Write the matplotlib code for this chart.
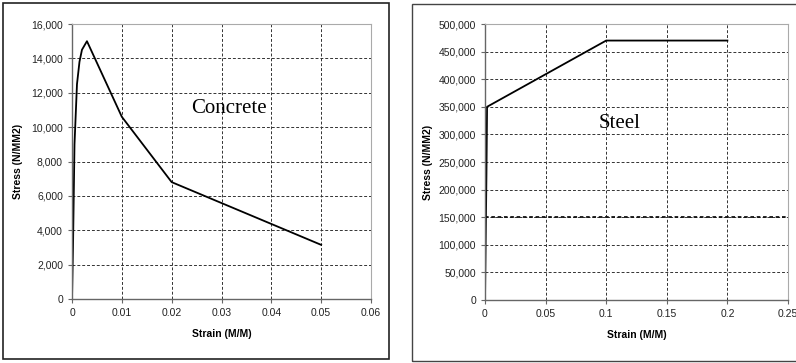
import matplotlib.pyplot as plt
from matplotlib.patches import Rectangle
from matplotlib.ticker import FuncFormatter

# concrete stress-strain
conc_strain = [0, 0.0002, 0.0005, 0.001, 0.0015, 0.002, 0.003, 0.01, 0.02, 0.05]
conc_stress = [0, 3000, 9000, 12500, 13800, 14500, 15000, 10600, 6800, 3150]

# steel stress-strain
steel_strain = [0, 0.0012, 0.0017, 0.1, 0.2]
steel_stress = [0, 230000, 350000, 470000, 470000]

fig = plt.figure(figsize=(7.96, 3.63), dpi=100)
plt.rcParams['font.family'] = ['Liberation Sans', 'DejaVu Sans']

# outer panel frames
fig.patches.append(Rectangle((3/796, 1-359/363), 386/796, 356/363, transform=fig.transFigure,
                             fill=False, ec='#222222', lw=1.2))
fig.patches.append(Rectangle((412/796, 1-361/363), 390/796, 357/363, transform=fig.transFigure,
                             fill=False, ec='#444444', lw=1.0))

comma = FuncFormatter(lambda v, p: '{:,.0f}'.format(v))


def style(ax):
    for s in ['top', 'right']:
        ax.spines[s].set_color('#aaaaaa')
        ax.spines[s].set_linewidth(0.8)
    for s in ['left', 'bottom']:
        ax.spines[s].set_color('#666666')
        ax.spines[s].set_linewidth(1.0)
    ax.grid(True, color='#333333', ls=(0, (3, 2)), lw=0.7)
    ax.set_axisbelow(True)
    ax.tick_params(labelsize=7.5, length=3, color='#666666', labelcolor='#222222')


ax1 = fig.add_axes([72/796, 1-299/363, 299/796, 275/363])
ax1.plot(conc_strain, conc_stress, color='black', lw=1.3)
ax1.set_xlim(0, 0.06)
ax1.set_ylim(0, 16000)
ax1.set_xticks([0, 0.01, 0.02, 0.03, 0.04, 0.05, 0.06])
ax1.set_xticklabels(['0', '0.01', '0.02', '0.03', '0.04', '0.05', '0.06'])
ax1.set_yticks(range(0, 16001, 2000))
ax1.yaxis.set_major_formatter(comma)
style(ax1)
ax1.set_xlabel('Strain (M/M)', fontsize=7.5, fontweight='bold', labelpad=8)
ax1.set_ylabel('Stress (N/MM2)', fontsize=7.5, fontweight='bold', labelpad=6)
ax1.text(0.024, 11100, 'Concrete', family='Liberation Serif', fontsize=15, va='center')

ax2 = fig.add_axes([485/796, 1-300/363, 303/796, 276/363])
ax2.plot(steel_strain, steel_stress, color='black', lw=1.3)
ax2.set_xlim(0, 0.25)
ax2.set_ylim(0, 500000)
ax2.set_xticks([0, 0.05, 0.1, 0.15, 0.2, 0.25])
ax2.set_xticklabels(['0', '0.05', '0.1', '0.15', '0.2', '0.25'])
ax2.set_yticks(range(0, 500001, 50000))
ax2.yaxis.set_major_formatter(comma)
style(ax2)
ax2.axhline(150000, color='#111111', ls=(0, (2, 1.5)), lw=1.3, zorder=1)
ax2.set_xlabel('Strain (M/M)', fontsize=7.5, fontweight='bold', labelpad=8)
ax2.set_ylabel('Stress (N/MM2)', fontsize=7.5, fontweight='bold', labelpad=4)
ax2.text(0.094, 320000, 'Steel', family='Liberation Serif', fontsize=15, va='center')

fig.savefig('out.png', dpi=100)
